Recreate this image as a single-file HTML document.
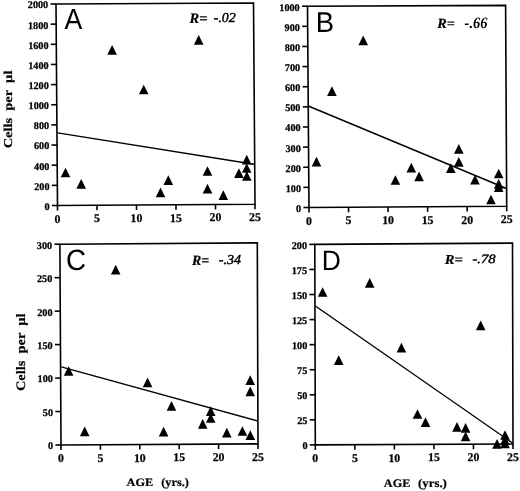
<!DOCTYPE html>
<html><head><meta charset="utf-8"><title>Figure</title><style>
html,body{margin:0;padding:0;background:#fff;}
body{width:520px;height:491px;overflow:hidden;}
svg{display:block;filter:grayscale(1);}
.ax{fill:none;stroke:#000;stroke-width:1.6;}
.rg{fill:none;stroke:#000;stroke-width:1.4;}
.pt{fill:#000;}
text{font-family:"Liberation Serif",serif;fill:#000;text-rendering:geometricPrecision;}
.yl{font-weight:bold;font-size:10.2px;text-anchor:end;stroke:#000;stroke-width:0.25px;}
.xl{font-weight:bold;font-size:11.8px;text-anchor:middle;stroke:#000;stroke-width:0.25px;}
.pl{font-family:"Liberation Sans",sans-serif;font-size:28px;}
.rr{font-weight:bold;font-style:italic;font-size:15.5px;stroke:#000;stroke-width:0.2px;}
.ri{font-style:italic;font-size:15px;stroke:#000;stroke-width:0.45px;}
.rbi{font-weight:bold;font-style:italic;font-size:15px;}
.yt{font-weight:bold;font-size:13.5px;stroke:#000;stroke-width:0.2px;}
.xt{font-weight:bold;font-size:12px;stroke:#000;stroke-width:0.2px;}
</style></head>
<body><svg width="520" height="491" viewBox="0 0 520 491">
<rect width="520" height="491" fill="#fff"/>
<path class="ax" d="M56 4L253.5 3L255 204.2L57.5 205.5Z"/>
<path class="ax" d="M52 205.5H57.5"/>
<text class="yl" x="49.7" y="209.9">0</text>
<path class="ax" d="M51.85 185.35H57.35"/>
<text class="yl" x="49.55" y="189.75">200</text>
<path class="ax" d="M51.7 165.2H57.2"/>
<text class="yl" x="49.4" y="169.6">400</text>
<path class="ax" d="M51.55 145.05H57.05"/>
<text class="yl" x="49.25" y="149.45">600</text>
<path class="ax" d="M51.4 124.9H56.9"/>
<text class="yl" x="49.1" y="129.3">800</text>
<path class="ax" d="M51.25 104.75H56.75"/>
<text class="yl" x="48.95" y="109.15">1000</text>
<path class="ax" d="M51.1 84.6H56.6"/>
<text class="yl" x="48.8" y="89">1200</text>
<path class="ax" d="M50.95 64.45H56.45"/>
<text class="yl" x="48.65" y="68.85">1400</text>
<path class="ax" d="M50.8 44.3H56.3"/>
<text class="yl" x="48.5" y="48.7">1600</text>
<path class="ax" d="M50.65 24.15H56.15"/>
<text class="yl" x="48.35" y="28.55">1800</text>
<path class="ax" d="M50.5 4H56"/>
<text class="yl" x="48.2" y="8.4">2000</text>
<path class="ax" d="M57.5 205.5V210.5"/>
<text class="xl" x="57.5" y="222.5">0</text>
<path class="ax" d="M97 205.24V210.24"/>
<text class="xl" x="97" y="222.24">5</text>
<path class="ax" d="M136.5 204.98V209.98"/>
<text class="xl" x="136.5" y="221.98">10</text>
<path class="ax" d="M176 204.72V209.72"/>
<text class="xl" x="176" y="221.72">15</text>
<path class="ax" d="M215.5 204.46V209.46"/>
<text class="xl" x="215.5" y="221.46">20</text>
<path class="ax" d="M255 204.2V209.2"/>
<text class="xl" x="255" y="221.2">25</text>
<path class="rg" d="M57.7 132.9L254 164.3"/>
<path class="pt" d="M65.5 167.65L70.3 177.35L60.7 177.35ZM81.2 179.05L86 188.75L76.4 188.75ZM112.1 44.95L116.9 54.65L107.3 54.65ZM143.7 84.65L148.5 94.35L138.9 94.35ZM160.5 187.45L165.3 197.15L155.7 197.15ZM168.3 175.35L173.1 185.05L163.5 185.05ZM198.7 35.05L203.5 44.75L193.9 44.75ZM207.5 166.15L212.3 175.85L202.7 175.85ZM207.5 183.85L212.3 193.55L202.7 193.55ZM223.3 190.35L228.1 200.05L218.5 200.05ZM238.9 168.35L243.7 178.05L234.1 178.05ZM246.7 154.75L251.5 164.45L241.9 164.45ZM246.7 163.15L251.5 172.85L241.9 172.85ZM246.8 171.15L251.6 180.85L242 180.85Z"/>
<path class="ax" d="M307.5 6.2L505.6 5.4L506.7 206.3L309 207.5Z"/>
<path class="ax" d="M303.5 207.5H309"/>
<text class="yl" x="301.2" y="211.9">0</text>
<path class="ax" d="M303.35 187.37H308.85"/>
<text class="yl" x="301.05" y="191.77">100</text>
<path class="ax" d="M303.2 167.24H308.7"/>
<text class="yl" x="300.9" y="171.64">200</text>
<path class="ax" d="M303.05 147.11H308.55"/>
<text class="yl" x="300.75" y="151.51">300</text>
<path class="ax" d="M302.9 126.98H308.4"/>
<text class="yl" x="300.6" y="131.38">400</text>
<path class="ax" d="M302.75 106.85H308.25"/>
<text class="yl" x="300.45" y="111.25">500</text>
<path class="ax" d="M302.6 86.72H308.1"/>
<text class="yl" x="300.3" y="91.12">600</text>
<path class="ax" d="M302.45 66.59H307.95"/>
<text class="yl" x="300.15" y="70.99">700</text>
<path class="ax" d="M302.3 46.46H307.8"/>
<text class="yl" x="300" y="50.86">800</text>
<path class="ax" d="M302.15 26.33H307.65"/>
<text class="yl" x="299.85" y="30.73">900</text>
<path class="ax" d="M302 6.2H307.5"/>
<text class="yl" x="299.7" y="10.6">1000</text>
<path class="ax" d="M309 207.5V212.5"/>
<text class="xl" x="309" y="224.5">0</text>
<path class="ax" d="M348.54 207.26V212.26"/>
<text class="xl" x="348.54" y="224.26">5</text>
<path class="ax" d="M388.08 207.02V212.02"/>
<text class="xl" x="388.08" y="224.02">10</text>
<path class="ax" d="M427.62 206.78V211.78"/>
<text class="xl" x="427.62" y="223.78">15</text>
<path class="ax" d="M467.16 206.54V211.54"/>
<text class="xl" x="467.16" y="223.54">20</text>
<path class="ax" d="M506.7 206.3V211.3"/>
<text class="xl" x="506.7" y="223.3">25</text>
<path class="rg" d="M308.3 106L506.5 188.5"/>
<path class="pt" d="M316.5 156.75L321.3 166.45L311.7 166.45ZM331.9 86.25L336.7 95.95L327.1 95.95ZM363.2 35.45L368 45.15L358.4 45.15ZM395.4 175.15L400.2 184.85L390.6 184.85ZM411.3 162.75L416.1 172.45L406.5 172.45ZM419.1 171.45L423.9 181.15L414.3 181.15ZM450.8 163.35L455.6 173.05L446 173.05ZM458.8 143.95L463.6 153.65L454 153.65ZM458.8 156.95L463.6 166.65L454 166.65ZM475 174.85L479.8 184.55L470.2 184.55ZM491 194.65L495.8 204.35L486.2 204.35ZM498.7 168.65L503.5 178.35L493.9 178.35ZM498.7 179.05L503.5 188.75L493.9 188.75ZM498.7 182.25L503.5 191.95L493.9 191.95Z"/>
<path class="ax" d="M59.9 244.2L257.3 242.9L258 443.9L61 445Z"/>
<path class="ax" d="M55.5 445H61"/>
<text class="yl" x="53.2" y="449.4">0</text>
<path class="ax" d="M55.32 411.53H60.82"/>
<text class="yl" x="53.02" y="415.93">50</text>
<path class="ax" d="M55.13 378.07H60.63"/>
<text class="yl" x="52.83" y="382.47">100</text>
<path class="ax" d="M54.95 344.6H60.45"/>
<text class="yl" x="52.65" y="349">150</text>
<path class="ax" d="M54.77 311.13H60.27"/>
<text class="yl" x="52.47" y="315.53">200</text>
<path class="ax" d="M54.58 277.67H60.08"/>
<text class="yl" x="52.28" y="282.07">250</text>
<path class="ax" d="M54.4 244.2H59.9"/>
<text class="yl" x="52.1" y="248.6">300</text>
<path class="ax" d="M61 445V450"/>
<text class="xl" x="61" y="462">0</text>
<path class="ax" d="M100.4 444.78V449.78"/>
<text class="xl" x="100.4" y="461.78">5</text>
<path class="ax" d="M139.8 444.56V449.56"/>
<text class="xl" x="139.8" y="461.56">10</text>
<path class="ax" d="M179.2 444.34V449.34"/>
<text class="xl" x="179.2" y="461.34">15</text>
<path class="ax" d="M218.6 444.12V449.12"/>
<text class="xl" x="218.6" y="461.12">20</text>
<path class="ax" d="M258 443.9V448.9"/>
<text class="xl" x="258" y="460.9">25</text>
<path class="rg" d="M61.3 366.8L257.2 420.9"/>
<path class="pt" d="M68.6 366.15L73.4 375.85L63.8 375.85ZM84.7 426.45L89.5 436.15L79.9 436.15ZM115.7 264.75L120.5 274.45L110.9 274.45ZM147.6 377.55L152.4 387.25L142.8 387.25ZM163.6 426.85L168.4 436.55L158.8 436.55ZM171.5 401.05L176.3 410.75L166.7 410.75ZM202.7 418.95L207.5 428.65L197.9 428.65ZM210.7 406.35L215.5 416.05L205.9 416.05ZM210.7 413.15L215.5 422.85L205.9 422.85ZM226.8 427.75L231.6 437.45L222 437.45ZM242.4 426.15L247.2 435.85L237.6 435.85ZM250.2 375.25L255 384.95L245.4 384.95ZM250.2 386.55L255 396.25L245.4 396.25ZM250.3 430.25L255.1 439.95L245.5 439.95Z"/>
<path class="ax" d="M314.8 244.4L512.5 243.1L513 444L315.3 444.9Z"/>
<path class="ax" d="M309.8 444.9H315.3"/>
<text class="yl" x="307.5" y="449.3">0</text>
<path class="ax" d="M309.74 419.84H315.24"/>
<text class="yl" x="307.44" y="424.24">25</text>
<path class="ax" d="M309.68 394.77H315.18"/>
<text class="yl" x="307.38" y="399.17">50</text>
<path class="ax" d="M309.61 369.71H315.11"/>
<text class="yl" x="307.31" y="374.11">75</text>
<path class="ax" d="M309.55 344.65H315.05"/>
<text class="yl" x="307.25" y="349.05">100</text>
<path class="ax" d="M309.49 319.59H314.99"/>
<text class="yl" x="307.19" y="323.99">125</text>
<path class="ax" d="M309.43 294.52H314.93"/>
<text class="yl" x="307.12" y="298.92">150</text>
<path class="ax" d="M309.36 269.46H314.86"/>
<text class="yl" x="307.06" y="273.86">175</text>
<path class="ax" d="M309.3 244.4H314.8"/>
<text class="yl" x="307" y="248.8">200</text>
<path class="ax" d="M315.3 444.9V449.9"/>
<text class="xl" x="315.3" y="461.9">0</text>
<path class="ax" d="M354.84 444.72V449.72"/>
<text class="xl" x="354.84" y="461.72">5</text>
<path class="ax" d="M394.38 444.54V449.54"/>
<text class="xl" x="394.38" y="461.54">10</text>
<path class="ax" d="M433.92 444.36V449.36"/>
<text class="xl" x="433.92" y="461.36">15</text>
<path class="ax" d="M473.46 444.18V449.18"/>
<text class="xl" x="473.46" y="461.18">20</text>
<path class="ax" d="M513 444V449"/>
<text class="xl" x="513" y="461">25</text>
<path class="rg" d="M315 305.7L512.5 443"/>
<path class="pt" d="M322.6 287.15L327.4 296.85L317.8 296.85ZM338.7 355.35L343.5 365.05L333.9 365.05ZM369.7 278.05L374.5 287.75L364.9 287.75ZM401.4 342.85L406.2 352.55L396.6 352.55ZM417.5 409.15L422.3 418.85L412.7 418.85ZM425.5 417.35L430.3 427.05L420.7 427.05ZM457 421.95L461.8 431.65L452.2 431.65ZM465.6 422.95L470.4 432.65L460.8 432.65ZM465.6 431.55L470.4 441.25L460.8 441.25ZM480.7 320.45L485.5 330.15L475.9 330.15ZM497 439.05L501.8 448.75L492.2 448.75ZM505 430.15L509.8 439.85L500.2 439.85ZM505 435.15L509.8 444.85L500.2 444.85ZM505 438.65L509.8 448.35L500.2 448.35Z"/>
<text class="pl" transform="translate(64.6 29.44) scale(0.9202 1)" style="font-size:28.990px" xml:space="preserve">A</text>
<text class="pl" transform="translate(315.71 31.56) scale(0.9588 1)" style="font-size:28.649px" xml:space="preserve">B</text>
<text class="pl" transform="translate(65.92 269.84) scale(0.9485 1)" style="font-size:29.346px" xml:space="preserve">C</text>
<text class="pl" transform="translate(321.71 270.15) scale(0.9409 1)" style="font-size:28.118px" xml:space="preserve">D</text>
<text class="rr" transform="translate(189.5 22.77) scale(1.0035 1)" style="font-size:14.434px" xml:space="preserve">R=</text>
<text class="ri" transform="translate(213.84 22.45) scale(1.0077 1)" style="font-size:13.661px" xml:space="preserve">-.02</text>
<text class="rr" transform="translate(437.37 27.82) scale(1.0191 1)" style="font-size:13.980px" xml:space="preserve">R=</text>
<text class="rbi" transform="translate(464.58 28.12) scale(0.9159 1)" style="font-size:15.816px" xml:space="preserve">-.66</text>
<text class="rr" transform="translate(192.1 264.51) scale(0.9669 1)" style="font-size:14.332px" xml:space="preserve">R=</text>
<text class="ri" transform="translate(218.85 264.38) scale(1.0222 1)" style="font-size:13.745px" xml:space="preserve">-.34</text>
<text class="rr" transform="translate(444.68 263.73) scale(1.0745 1)" style="font-size:13.620px" xml:space="preserve">R=</text>
<text class="ri" transform="translate(472.47 263.29) scale(1.1506 1)" style="font-size:12.732px" xml:space="preserve">-.78</text>
<text class="yt" transform="translate(11.92 148.32) rotate(-90)" style="font-size:12.098px" textLength="77.76" lengthAdjust="spacingAndGlyphs" xml:space="preserve">Cells  per  µl</text>
<text class="yt" transform="translate(25.03 391.09) rotate(-90)" style="font-size:12.916px" textLength="77.59" lengthAdjust="spacingAndGlyphs" xml:space="preserve">Cells  per  µl</text>
<text class="xt" transform="translate(126.62 486.49) scale(1.0879 1)" style="font-size:11.312px" xml:space="preserve">AGE</text>
<text class="xt" transform="translate(161.21 486.41) scale(1.0469 1)" style="font-size:11.765px" xml:space="preserve">(yrs.)</text>
<text class="xt" transform="translate(383.87 486.6) scale(1.0593 1)" style="font-size:11.566px" xml:space="preserve">AGE</text>
<text class="xt" transform="translate(418.04 486.72) scale(1.0805 1)" style="font-size:11.881px" xml:space="preserve">(yrs.)</text>
</svg></body></html>
